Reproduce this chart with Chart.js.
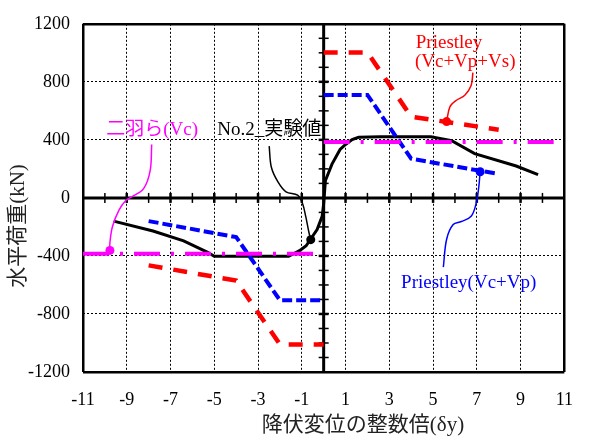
<!DOCTYPE html>
<html>
<head>
<meta charset="utf-8">
<script src="https://cdn.jsdelivr.net/npm/chart.js@4.4.1/dist/chart.umd.min.js"></script>
<style>
  html, body { margin: 0; padding: 0; background: #ffffff; }
  #wrap { width: 590px; height: 442px; }
</style>
</head>
<body>
<div id="wrap"><canvas id="c" width="590" height="442"></canvas></div>
<script>
// Axis tick values
const xTickValues = [-11, -9, -7, -5, -3, -1, 1, 3, 5, 7, 9, 11];
const yTickValues = [-1200, -800, -400, 0, 400, 800, 1200];

// No.2 test envelope (ductility factor, kN)
const testX = [-9.6, -7.8, -6.4, -5.3, -5.0, -1.6, -1.1, -0.8, -0.6, -0.3, -0.07, 0, 0.08, 0.38, 0.75, 1.0, 1.3, 1.6, 2.6, 4.9, 5.85, 6.9, 8.8, 9.8];
const testY = [-160, -228, -296, -375, -402, -402, -364, -330, -285, -218, -127, -40, 120, 233, 334, 368, 402, 418, 422, 422, 395, 305, 220, 160];

// Priestley (Vc+Vp)
const vcpNegX = [-8, -4, -2, 0];
const vcpNegY = [-160, -270, -705, -705];
const vcpPosX = [0, 2, 4, 8];
const vcpPosY = [710, 710, 270, 165];

// Priestley (Vc+Vp+Vs)
const vcpsNegX = [-8, -4, -2, 0];
const vcpsNegY = [-465, -570, -1010, -1010];
const vcpsPosX = [0, 2, 4, 8];
const vcpsPosY = [1003, 1003, 560, 470];

// 二羽ら (Vc)
const vcNegX = [-11, 0];
const vcNegY = [-385, -385];
const vcPosX = [0, 11];
const vcPosY = [385, 385];

// Leader curves from each label to its marker (last point = marker)
const leadVcpsX = [6.82, 6.74, 6.45, 6.07, 5.77, 5.62];
const leadVcpsY = [864, 774, 707, 673, 627, 526];
const leadVcpX = [5.47, 5.62, 5.92, 6.29, 6.74, 6.97, 7.09, 7.15];
const leadVcpY = [-477, -285, -184, -163, -127, -37, 76, 180];
const leadVcX = [-7.86, -7.93, -8.23, -8.76, -9.05, -9.35, -9.65, -9.77, -9.77];
const leadVcY = [368, 188, 64, 8, -19, -82, -195, -308, -362];
const leadTestX = [-2.49, -2.39, -2.09, -1.72, -1.19, -0.97, -0.82, -0.67, -0.59];
const leadTestY = [357, 211, 110, 42, 19, -37, -127, -240, -288];

const SERIF = "'Liberation Serif', 'Noto Sans CJK JP', serif";
const RED = '#ff0000', BLUE = '#0000ff', MAGENTA = '#ff00ff', BLACK = '#000000';

const pts = (xs, ys) => xs.map((x, i) => ({ x: x, y: ys[i] }));

function lineSet(xs, ys, color, width, dash, order) {
  return {
    data: pts(xs, ys), showLine: true, borderColor: color, backgroundColor: color,
    borderWidth: width, borderDash: dash, pointRadius: 0, tension: 0,
    borderCapStyle: 'butt', order: order
  };
}
function leaderSet(xs, ys, color) {
  const last = xs.length - 1;
  return {
    data: pts(xs, ys), showLine: true, borderColor: color, backgroundColor: color,
    borderWidth: 1.5, tension: 0.35, order: 0,
    pointRadius: (ctx) => ctx.dataIndex === last ? 4.5 : 0,
    pointBorderWidth: 0
  };
}

// Text labels placed in data coordinates
const notes = [
  { text: '二羽ら(Vc)', x: -9.94, y: 470, color: MAGENTA },
  { text: 'No.2_実験値', x: -4.86, y: 470, color: BLACK },
  { text: 'Priestley', x: 4.21, y: 1065, color: RED },
  { text: '(Vc+Vp+Vs)', x: 4.17, y: 936, color: RED },
  { text: 'Priestley(Vc+Vp)', x: 3.54, y: -585, color: BLUE }
];

const decorPlugin = {
  id: 'decor',
  beforeDatasetsDraw(chart) {
    const { ctx, scales: { x, y } } = chart;
    const x0 = x.getPixelForValue(0), y0 = y.getPixelForValue(0);
    ctx.save();
    ctx.strokeStyle = BLACK;
    // zero axes
    ctx.lineWidth = 3;
    ctx.beginPath();
    ctx.moveTo(x.left, y0); ctx.lineTo(x.right, y0);
    ctx.moveTo(x0, y.top); ctx.lineTo(x0, y.bottom);
    ctx.stroke();
    // minor ticks on the horizontal zero axis
    for (let v = -10; v <= 10; v++) {
      if (v === 0) continue;
      const px = x.getPixelForValue(v);
      ctx.lineWidth = (Math.abs(v) % 2 === 1) ? 2.5 : 1.5;
      ctx.beginPath(); ctx.moveTo(px, y0 - 5); ctx.lineTo(px, y0 + 5); ctx.stroke();
    }
    // minor ticks on the vertical zero axis
    for (let v = -1100; v <= 1100; v += 100) {
      if (v === 0) continue;
      const py = y.getPixelForValue(v);
      ctx.lineWidth = (v % 400 === 0) ? 2.5 : 1.5;
      ctx.beginPath(); ctx.moveTo(x0 - 5, py); ctx.lineTo(x0 + 5, py); ctx.stroke();
    }
    ctx.restore();
  },
  afterDraw(chart) {
    const { ctx, scales: { x, y }, chartArea } = chart;
    ctx.save();
    ctx.font = '19px ' + SERIF;
    ctx.textBaseline = 'middle';
    ctx.textAlign = 'left';
    notes.forEach(n => {
      ctx.fillStyle = n.color;
      ctx.fillText(n.text, x.getPixelForValue(n.x), y.getPixelForValue(n.y));
    });
    // axis titles
    ctx.fillStyle = '#222222';
    ctx.font = '21px ' + SERIF;
    ctx.textAlign = 'center';
    ctx.fillText('降伏変位の整数倍(δy)', 363, 425);
    ctx.translate(18, 226);
    ctx.rotate(-Math.PI / 2);
    ctx.fillText('水平荷重(kN)', 0, 0);
    ctx.restore();
  }
};

const isEdge = (scale, v) => v === scale.min || v === scale.max;

function gridFor(axis) {
  return {
    color: (ctx) => (ctx.tick && ctx.tick.value === 0) ? 'rgba(0,0,0,0)' : BLACK,
    lineWidth: (ctx) => (ctx.tick && isEdge(ctx.chart.scales[axis], ctx.tick.value)) ? 2.5 : 1,
    drawTicks: false
  };
}
function borderFor(axis) {
  return {
    display: false,
    dash: (ctx) => (ctx.tick && isEdge(ctx.chart.scales[axis], ctx.tick.value)) ? [] : [2, 2]
  };
}

new Chart(document.getElementById('c'), {
  type: 'scatter',
  data: {
    datasets: [
      leaderSet(leadVcpsX, leadVcpsY, RED),
      leaderSet(leadVcpX, leadVcpY, BLUE),
      leaderSet(leadVcX, leadVcY, MAGENTA),
      leaderSet(leadTestX, leadTestY, BLACK),
      lineSet(vcNegX, vcNegY, MAGENTA, 4, [26, 11, 3, 11], 1),
      lineSet(vcPosX, vcPosY, MAGENTA, 4, [26, 11, 3, 11], 1),
      lineSet(vcpsNegX, vcpsNegY, RED, 4.5, [14, 11], 2),
      lineSet(vcpsPosX, vcpsPosY, RED, 4.5, [14, 11], 2),
      lineSet(vcpNegX, vcpNegY, BLUE, 4, [10, 4], 3),
      lineSet(vcpPosX, vcpPosY, BLUE, 4, [10, 4], 3),
      lineSet(testX, testY, BLACK, 3, [], 4)
    ]
  },
  options: {
    responsive: false,
    devicePixelRatio: 1,
    animation: false,
    events: [],
    layout: { padding: { left: 0, right: 17, top: 17, bottom: 0 } },
    plugins: { legend: { display: false }, tooltip: { enabled: false } },
    scales: {
      x: {
        type: 'linear', min: -11, max: 11,
        afterBuildTicks: (s) => { s.ticks = xTickValues.map(v => ({ value: v })); },
        afterFit: (s) => { s.height = 70; },
        grid: gridFor('x'),
        border: borderFor('x'),
        ticks: { color: BLACK, padding: 17, maxRotation: 0, autoSkip: false,
                 font: { family: SERIF, size: 18 }, callback: (v) => String(v) }
      },
      y: {
        type: 'linear', min: -1200, max: 1200,
        afterBuildTicks: (s) => { s.ticks = yTickValues.map(v => ({ value: v })); },
        afterFit: (s) => { s.width = 83; },
        grid: gridFor('y'),
        border: borderFor('y'),
        ticks: { color: BLACK, padding: 13, autoSkip: false,
                 font: { family: SERIF, size: 18 }, callback: (v) => String(v) }
      }
    }
  },
  plugins: [decorPlugin]
});
</script>
</body>
</html>
